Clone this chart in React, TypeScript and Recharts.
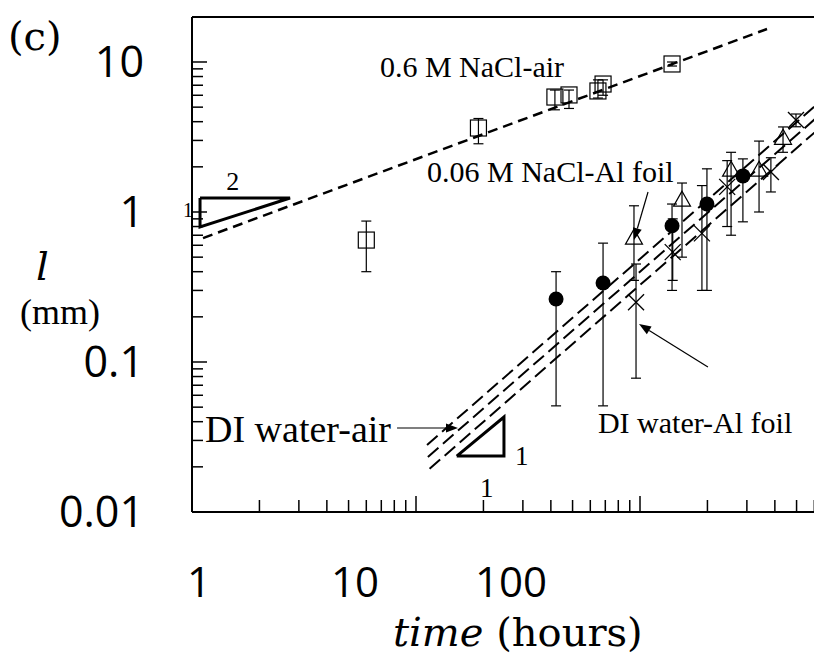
import React from "react";
import {
  ComposedChart,
  Scatter,
  XAxis,
  YAxis,
  ErrorBar,
  ReferenceLine,
  ReferenceDot
} from "recharts";

// axis ticks
const xTicks = [1, 2, 3, 4, 5, 6, 7, 8, 9, 10, 20, 30, 40, 50, 60, 70, 80, 90, 100, 200, 300, 400, 500, 600, 700, 800, 900];
const xMajor = [1, 10, 100];
const xTickLabels = ["1", "10", "100"];
const yTicks = [
  0.01, 0.02, 0.03, 0.04, 0.05, 0.06, 0.07, 0.08, 0.09,
  0.1, 0.2, 0.3, 0.4, 0.5, 0.6, 0.7, 0.8, 0.9,
  1, 2, 3, 4, 5, 6, 7, 8, 9, 10
];
const yMajor = [0.01, 0.1, 1, 10];
const yTickLabels = ["0.01", "0.1", "1", "10"];

// 0.6 M NaCl-air (open squares)
const sqTime = [6.0, 19, 41.7, 48.2, 64.9, 68.4, 139];
const sqLen = [0.65, 3.63, 5.84, 6.03, 6.41, 7.13, 9.7];
const sqLo = [0.4, 2.85, 4.8, 4.9, 5.75, 6.0, 9.4];
const sqHi = [0.87, 4.2, 6.5, 6.5, 7.6, 7.6, 10.0];

// 0.06 M NaCl-Al foil (open triangles)
const triTime = [94, 154, 255, 340, 435];
const triLen = [0.67, 1.2, 1.9, 1.9, 3.1];
const triLo = [0.35, 0.5, 0.7, 1.0, 2.5];
const triHi = [1.1, 1.56, 2.5, 2.97, 3.69];

// DI water-air (filled circles)
const dotTime = [42.2, 68.4, 139, 199, 288];
const dotLen = [0.263, 0.336, 0.81, 1.13, 1.74];
const dotLo = [0.051, 0.051, 0.3, 0.3, 0.86];
const dotHi = [0.4, 0.62, 1.13, 1.94, 2.26];

// DI water-Al foil (crosses)
const crTime = [96, 140, 189, 245, 384, 497];
const crLen = [0.25, 0.54, 0.72, 1.47, 1.85, 4.1];
const crLo = [0.078, 0.35, 0.3, 0.8, 1.36, 3.7];
const crHi = [0.45, 0.9, 1.5, 2.2, 2.3, 4.5];

// fitted power laws (dashed)
const fitNaclAir = [{ x: 1.12, y: 0.67 }, { x: 369, y: 16.6 }];
const fitA = [{ x: 11.2, y: 0.028 }, { x: 649, y: 5.58 }];
const fitB = [{ x: 11.3, y: 0.0233 }, { x: 649, y: 4.57 }];
const fitC = [{ x: 11.5, y: 0.0194 }, { x: 649, y: 3.74 }];

// slope triangles
const slopeHalf = [
  { x: 1.086, y: 1.24 }, { x: 2.74, y: 1.24 }, { x: 1.086, y: 0.794 }, { x: 1.086, y: 1.24 }
];
const slopeOne = [
  { x: 15.2, y: 0.0236 }, { x: 24.7, y: 0.0236 }, { x: 24.7, y: 0.043 }, { x: 15.2, y: 0.0236 }
];

// annotation texts (left x, baseline y)
const noteText = ["0.6 M NaCl-air", "0.06 M NaCl-Al foil", "DI water-air", "DI water-Al foil"];
const noteTime = [6.9, 11.2, 1.143, 64.9];
const noteLen = [7.94, 1.585, 0.0293, 0.0336];

// slope numbers
const slopeText = ["2", "1", "1", "1"];
const slopeTime = [1.52, 1, 27.7, 20.7];
const slopeLen = [1.4, 0.926, 0.0206, 0.0126];

// arrows [from, to]
const arrows = [
  [{ x: 8.23, y: 0.0363 }, { x: 15.4, y: 0.0363 }],
  [{ x: 108.6, y: 1.36 }, { x: 94, y: 0.65 }],
  [{ x: 201, y: 0.0926 }, { x: 99, y: 0.179 }]
];

const withErr = (t: number[], l: number[], lo: number[], hi: number[]) =>
  t.map((x, i) => ({ x, y: l[i], err: [l[i] - lo[i], hi[i] - l[i]] }));

const squares = withErr(sqTime, sqLen, sqLo, sqHi);
const triangles = withErr(triTime, triLen, triLo, triHi);
const dots = withErr(dotTime, dotLen, dotLo, dotHi);
const crosses = withErr(crTime, crLen, crLo, crHi);

const serif = "'Liberation Serif', 'Times New Roman', serif";
const wideSerif = "'DejaVu Serif', serif";
const sans = "'Open Sans', 'Noto Sans', sans-serif";

// plot left edge (chart px); the printed numbers in the figure are squeezed
// toward the left relative to the real decade ticks
const plotLeft = 184;
const labelSqueeze = 156 / 224;
const labelShift = 7;

const XTick = (props: any) => {
  const { x, y, payload } = props;
  const idx = xMajor.indexOf(payload.value);
  const major = idx >= 0;
  return (
    <g>
      <line x1={x} x2={x} y1={y} y2={y - (major ? 16 : 12)} stroke="#000" strokeWidth={1.5} />
      {major && (
        <text
          x={plotLeft + labelShift + (x - plotLeft) * labelSqueeze}
          y={y + 85}
          textAnchor="middle"
          fontFamily={sans}
          fontSize={42}
          fill="#000"
        >
          {xTickLabels[idx]}
        </text>
      )}
    </g>
  );
};

const YTick = (props: any) => {
  const { x, y, payload } = props;
  const idx = yMajor.indexOf(payload.value);
  const major = idx >= 0;
  return (
    <g>
      <line x1={x} x2={x + (major ? 15 : 11)} y1={y} y2={y} stroke="#000" strokeWidth={1.5} />
      {major && (
        <text x={x - 48} y={y + 15} textAnchor="end" fontFamily={sans} fontSize={43} fill="#000">
          {yTickLabels[idx]}
        </text>
      )}
    </g>
  );
};

const Arrow = (p: any) => {
  const { x1, y1, x2, y2 } = p;
  const a = Math.atan2(y2 - y1, x2 - x1);
  const len = 12;
  const w = 4.5;
  const bx = x2 - len * Math.cos(a);
  const by = y2 - len * Math.sin(a);
  const px = -Math.sin(a) * w;
  const py = Math.cos(a) * w;
  return (
    <g>
      <line x1={x1} y1={y1} x2={bx} y2={by} stroke="#000" strokeWidth={1.2} />
      <polygon points={`${x2},${y2} ${bx + px},${by + py} ${bx - px},${by - py}`} fill="#000" />
    </g>
  );
};

const Square = (p: any) => (
  <rect x={p.cx - 8} y={p.cy - 8} width={16} height={16} fill="none" stroke="#000" strokeWidth={1.2} />
);
const Triangle = (p: any) => (
  <polygon
    points={`${p.cx},${p.cy - 9} ${p.cx - 8.5},${p.cy + 6} ${p.cx + 8.5},${p.cy + 6}`}
    fill="none"
    stroke="#000"
    strokeWidth={1.2}
  />
);
const Dot = (p: any) => <circle cx={p.cx} cy={p.cy} r={7.5} fill="#000" />;
const Cross = (p: any) => (
  <g stroke="#000" strokeWidth={1.3}>
    <line x1={p.cx - 8} y1={p.cy - 8} x2={p.cx + 8} y2={p.cy + 8} />
    <line x1={p.cx - 8} y1={p.cy + 8} x2={p.cx + 8} y2={p.cy - 8} />
  </g>
);
const NoPoint = () => <g />;

const noteSize = [30, 30, 38, 30];
const slopeSize = [26, 20, 27, 27];
const slopeAnchor = ["middle", "end", "start", "middle"];

export default function App() {
  return (
    <div style={{ width: 814, height: 646, overflow: "hidden", position: "relative", background: "#fff" }}>
      <ComposedChart width={900} height={646} margin={{ top: 9, right: 44, bottom: 0, left: 0 }}>
        <XAxis
          dataKey="x"
          type="number"
          scale="log"
          domain={[1, 1000]}
          ticks={xTicks}
          interval={0}
          tickSize={0}
          tickMargin={0}
          tickLine={false}
          tick={<XTick />}
          height={142}
          axisLine={{ stroke: "#000", strokeWidth: 2 }}
          label={{
            content: () => (
              <text x={385} y={638} fontFamily={wideSerif} fontSize={40} fill="#000">
                <tspan fontStyle="italic">time</tspan> (hours)
              </text>
            )
          }}
        />
        <YAxis
          dataKey="y"
          type="number"
          scale="log"
          domain={[0.01, 19.95]}
          ticks={yTicks}
          interval={0}
          tickSize={0}
          tickMargin={0}
          tickLine={false}
          tick={<YTick />}
          width={184}
          axisLine={{ stroke: "#000", strokeWidth: 2 }}
          label={{
            content: () => (
              <g fill="#000">
                <text x={0} y={42} fontFamily={wideSerif} fontSize={40}>(c)</text>
                <text x={28} y={272} fontFamily={wideSerif} fontSize={40} fontStyle="italic">l</text>
                <text x={52} y={316} fontFamily={serif} fontSize={36} textAnchor="middle">(mm)</text>
              </g>
            )
          }}
        />
        <ReferenceLine y={19.95} stroke="#000" strokeWidth={2} />

        <Scatter data={fitNaclAir} shape={NoPoint} line={{ stroke: "#000", strokeWidth: 2.5, strokeDasharray: "10 6" }} isAnimationActive={false} />
        <Scatter data={fitA} shape={NoPoint} line={{ stroke: "#000", strokeWidth: 2, strokeDasharray: "14 6" }} isAnimationActive={false} />
        <Scatter data={fitB} shape={NoPoint} line={{ stroke: "#000", strokeWidth: 2, strokeDasharray: "14 6" }} isAnimationActive={false} />
        <Scatter data={fitC} shape={NoPoint} line={{ stroke: "#000", strokeWidth: 2, strokeDasharray: "14 6" }} isAnimationActive={false} />
        <Scatter data={slopeHalf} shape={NoPoint} line={{ stroke: "#000", strokeWidth: 3 }} isAnimationActive={false} />
        <Scatter data={slopeOne} shape={NoPoint} line={{ stroke: "#000", strokeWidth: 3 }} isAnimationActive={false} />

        <Scatter data={squares} shape={Square} isAnimationActive={false}>
          <ErrorBar dataKey="err" direction="y" width={5} stroke="#000" strokeWidth={1.2} isAnimationActive={false} />
        </Scatter>
        <Scatter data={triangles} shape={Triangle} isAnimationActive={false}>
          <ErrorBar dataKey="err" direction="y" width={5} stroke="#000" strokeWidth={1.2} isAnimationActive={false} />
        </Scatter>
        <Scatter data={dots} shape={Dot} isAnimationActive={false}>
          <ErrorBar dataKey="err" direction="y" width={5} stroke="#000" strokeWidth={1.2} isAnimationActive={false} />
        </Scatter>
        <Scatter data={crosses} shape={Cross} isAnimationActive={false}>
          <ErrorBar dataKey="err" direction="y" width={5} stroke="#000" strokeWidth={1.2} isAnimationActive={false} />
        </Scatter>

        {arrows.map((seg, i) => (
          <ReferenceLine key={`ar${i}`} segment={seg} shape={Arrow} />
        ))}
        {noteText.map((t, i) => (
          <ReferenceDot
            key={`n${i}`}
            x={noteTime[i]}
            y={noteLen[i]}
            r={0}
            shape={(p: any) => (
              <text x={p.cx} y={p.cy} fontFamily={serif} fontSize={noteSize[i]} fill="#000">
                {t}
              </text>
            )}
          />
        ))}
        {slopeText.map((t, i) => (
          <ReferenceDot
            key={`s${i}`}
            x={slopeTime[i]}
            y={slopeLen[i]}
            r={0}
            shape={(p: any) => (
              <text
                x={p.cx + (i === 1 ? 1 : 0)}
                y={p.cy}
                fontFamily={serif}
                fontSize={slopeSize[i]}
                textAnchor={slopeAnchor[i] as any}
                fill="#000"
              >
                {t}
              </text>
            )}
          />
        ))}
      </ComposedChart>
    </div>
  );
}
